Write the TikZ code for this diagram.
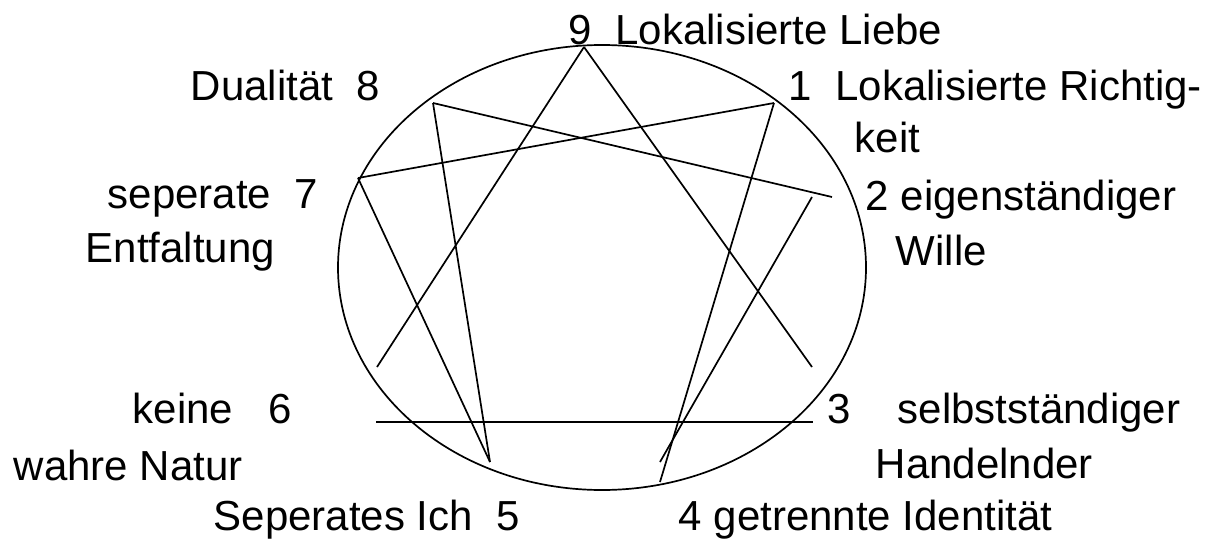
\documentclass[tikz,border=0pt]{standalone}
\usepackage{fontspec}
\setmainfont{Liberation Sans}
\usetikzlibrary{positioning}
\usetikzlibrary{shapes.geometric}

\begin{document}
\begin{tikzpicture}
        [ x=1pt, y=-1pt
        , line width=1.7pt
        , txt/.style={anchor=base west, inner sep=0pt, font=\fontsize{42}{50}\selectfont}
        ]
        \useasboundingbox (0,0) rectangle (1216,541);
        % the circle
        \node (ring) [draw, ellipse, minimum width=528pt, minimum height=445pt, inner sep=0pt] at (602,267.5) {};
        % points of the figure
        \coordinate (p9) at (584,47);
        \coordinate (p8) at (433,103);
        \coordinate (p1) at (774,103);
        \coordinate (p7) at (358,178);
        \coordinate (p2) at (832,197);
        \coordinate (p2b) at (812,197);
        \coordinate (p6) at (377,367);
        \coordinate (p3) at (812,367);
        \coordinate (p6h) at (376,422);
        \coordinate (p3h) at (813,422);
        \coordinate (p5) at (490,462);
        \coordinate (p4) at (660,482);
        \coordinate (p4b) at (660,462);
        % lines
        \draw (p9) -- (p6);
        \draw (p9) -- (p3);
        \draw (p6h) -- (p3h);
        \draw (p8) -- (p2);
        \draw (p8) -- (p5);
        \draw (p7) -- (p5);
        \draw (p7) -- (p1);
        \draw (p1) -- (p4);
        \draw (p2b) -- (p4b);
        % labels
        \node[txt] (t9) at (568,44) {9~~Lokalisierte Liebe};
        \node[txt] (t8) at (190,100) {Dualität~~8};
        \node[txt] (t1) at (788,100) {1~~Lokalisierte Richtig-};
        \node[txt] (t1b) at (854,152) {keit};
        \node[txt] (t7) at (107,208) {seperate~~7};
        \node[txt] (t7b) at (85,262) {Entfaltung};
        \node[txt] (t2) at (865,210) {2 eigenständiger};
        \node[txt] (t2b) at (895,265) {Wille};
        \node[txt] (t6) at (132,423) {keine~~~6};
        \node[txt] (t6b) at (13,480) {wahre Natur};
        \node[txt] (t3) at (827,423) {3~~~~selbstständiger};
        \node[txt] (t3b) at (875,478) {Handelnder};
        \node[txt] (t5) at (213,530) {Seperates Ich~~5};
        \node[txt] (t4) at (678,530) {4 getrennte Identität};
\end{tikzpicture}
\end{document}
